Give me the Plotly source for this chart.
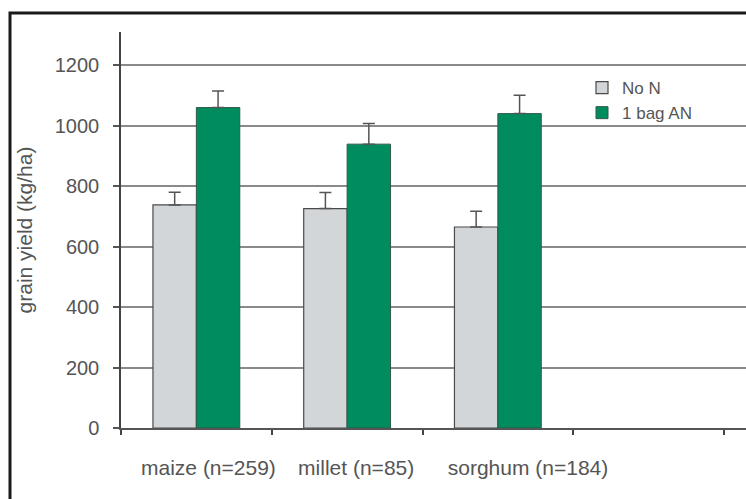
import plotly.graph_objects as go

categories = ["maize (n=259)", "millet (n=85)", "sorghum (n=184)"]
no_n = [738, 726, 665]
no_n_err = [42, 53, 52]
bag_an = [1060, 939, 1040]
bag_an_err = [55, 68, 61]
series_names = ["No N", "1 bag AN"]
y_ticks = [0, 200, 400, 600, 800, 1000, 1200]

# label position tweaks (style)
label_shift = [0.08, 0.06, 0.20]

FONT = "Liberation Sans, Arial, sans-serif"
TXT = "#555555"

x_pos = list(range(len(categories)))

fig = go.Figure()
fig.add_trace(go.Bar(
    x=x_pos, y=no_n, name=series_names[0],
    marker=dict(color="#d3d6d9", line=dict(color="#4a4a4a", width=1.2)),
    error_y=dict(type="data", array=no_n_err, arrayminus=[0]*len(no_n_err),
                 symmetric=False, color="#555555", thickness=1.5, width=6),
))
fig.add_trace(go.Bar(
    x=x_pos, y=bag_an, name=series_names[1],
    marker=dict(color="#008c5f", line=dict(color="#2f5a48", width=1.0)),
    error_y=dict(type="data", array=bag_an_err, arrayminus=[0]*len(bag_an_err),
                 symmetric=False, color="#555555", thickness=1.5, width=6),
))

L, R, T, B = 121, 0, 32, 71
W, H = 746, 499
pw = W - L - R
ph = H - T - B

fig.update_layout(
    width=W, height=H,
    margin=dict(l=L, r=R, t=T, b=B, pad=0, autoexpand=False),
    paper_bgcolor="white", plot_bgcolor="white",
    barmode="group", bargap=0.424, bargroupgap=0,
    font=dict(family=FONT, color=TXT, size=18),
    showlegend=True,
    legend=dict(x=(582 - L) / pw, y=(H - B - 70) / ph, xanchor="left", yanchor="top",
                bgcolor="rgba(0,0,0,0)", font=dict(size=17, color=TXT),
                itemwidth=30, tracegroupgap=0, traceorder="normal"),
    xaxis=dict(
        range=[-0.5, 3.646],
        tickmode="array",
        tickvals=[i + s for i, s in enumerate(label_shift)],
        ticktext=categories,
        ticks="", showgrid=False, zeroline=False,
        showline=True, linecolor="#555555", linewidth=1.5,
        tickfont=dict(size=21, color=TXT),
        ticklabelstandoff=20,
        minor=dict(tick0=0.5, dtick=1, ticks="outside", ticklen=5,
                   tickcolor="#444444", tickwidth=1.5, showgrid=False),
    ),
    yaxis=dict(
        range=[0, 1310],
        tickmode="array", tickvals=y_ticks,
        ticks="outside", ticklen=6, tickcolor="#555555", tickwidth=1.5,
        showgrid=True, gridcolor="#8a8a8a", gridwidth=1.5,
        zeroline=False,
        showline=True, linecolor="#444444", linewidth=1.5,
        tickfont=dict(size=20, color=TXT),
        ticklabelstandoff=10,
        title=dict(text="grain yield (kg/ha)", font=dict(size=21, color=TXT), standoff=16),
    ),
    shapes=[dict(type="rect", xref="paper", yref="paper",
                 x0=(10 - L) / pw, x1=1.2, y0=-0.4, y1=1 + (T - 13) / ph,
                 line=dict(color="#1a1a1a", width=3), fillcolor="rgba(0,0,0,0)",
                 layer="above")],
)

fig.write_html("out.html",
               config={"displayModeBar": False},
               post_script="document.body.style.margin='0';document.body.style.overflow='hidden';")
